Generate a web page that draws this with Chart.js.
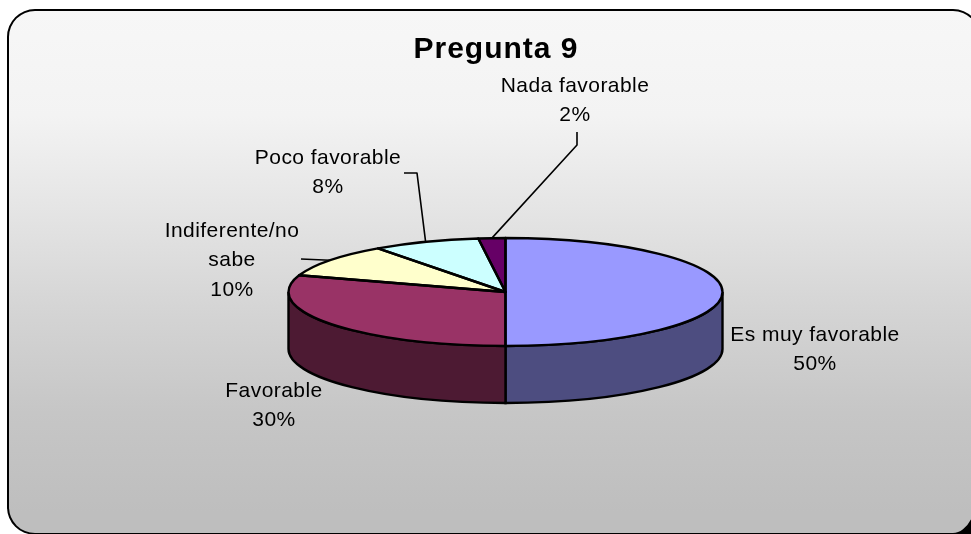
<!DOCTYPE html>
<html>
<head>
<meta charset="utf-8">
<script src="https://cdn.jsdelivr.net/npm/chart.js@4"></script>
<style>
html, body { margin: 0; padding: 0; background: #fff; overflow: hidden; }
#corner { position: absolute; left: 945px; top: 515px; width: 26px; height: 19px; background: #000; }
#frame {
    position: absolute; left: 7px; top: 9px; width: 974px; height: 526px;
    box-sizing: border-box; border: 2px solid #000; border-radius: 28px;
    border-bottom-right-radius: 28px 51px;
    background: linear-gradient(#f7f7f7 0%, #f3f3f3 20%, #e4e4e4 39%, #d4d4d4 58%, #c6c6c6 77%, #bebebe 96%, #bebebe 100%);
}
</style>
</head>
<body>
<div id="corner"></div>
<div id="frame"></div>
<canvas id="pieChart" width="971" height="534" style="position:absolute;left:0;top:0"></canvas>
<script>
const chartTitle = 'Pregunta 9';
const categories = [['Es muy favorable'], ['Favorable'], ['Indiferente/no', 'sabe'], ['Poco favorable'], ['Nada favorable']];
const shares = [50, 30, 10, 8, 2];
const topColors = ['#9999ff', '#993366', '#ffffcc', '#ccffff', '#660066'];
const sideColors = ['#4d4d80', '#4d1a33', '#808066', '#668080', '#330033'];

// where the pie face ends up once squashed, and how thick it is
const face = { x: 505.5, y: 292, rx: 217, ry: 54, depth: 57 };

// label centre (first line) and leader elbow points, one per slice
const labelPos = [
    { x: 815, y: 335, leader: [] },
    { x: 274, y: 391, leader: [] },
    { x: 232, y: 231, leader: [[301, 259]] },
    { x: 328, y: 158, leader: [[404, 173], [417, 173]] },
    { x: 575, y: 86, leader: [[577, 132], [577, 145]] }
];
const fontPx = 21, lineStep = 29.5;

function facePoint(a) {
    return [face.x + face.rx * Math.cos(a), face.y + face.ry * Math.sin(a)];
}

const pie3d = {
    id: 'pie3d',
    beforeDraw(chart) {
        // GDI text runs wider than the same font here
        chart.ctx.letterSpacing = '1px';
    },
    beforeDatasetsDraw(chart) {
        const ctx = chart.ctx;
        ctx.letterSpacing = '0px';
        const arcs = chart.getDatasetMeta(0).data;
        // side wall, only the part of each slice that faces the viewer
        ctx.save();
        ctx.lineWidth = 2.4;
        ctx.strokeStyle = '#000';
        arcs.forEach((arc, i) => {
            const a = Math.max(arc.startAngle, 0), b = Math.min(arc.endAngle, Math.PI);
            if (b <= a) return;
            ctx.beginPath();
            ctx.ellipse(face.x, face.y, face.rx, face.ry, 0, a, b);
            ctx.ellipse(face.x, face.y + face.depth, face.rx, face.ry, 0, b, a, true);
            ctx.closePath();
            ctx.fillStyle = sideColors[i];
            ctx.fill();
            ctx.stroke();
        });
        ctx.restore();
        // the slices themselves are squashed onto the face
        const first = arcs[0];
        ctx.save();
        ctx.translate(face.x, face.y);
        ctx.scale(face.rx / first.outerRadius, face.ry / first.outerRadius);
        ctx.translate(-first.x, -first.y);
    },
    afterDatasetsDraw(chart) {
        const ctx = chart.ctx;
        ctx.restore();
        const arcs = chart.getDatasetMeta(0).data;
        ctx.save();
        ctx.lineWidth = 2.4;
        ctx.strokeStyle = '#000';
        ctx.lineJoin = 'round';
        // outlines are stroked without the squash so the width stays even
        arcs.forEach(arc => {
            ctx.beginPath();
            ctx.moveTo(face.x, face.y);
            ctx.ellipse(face.x, face.y, face.rx, face.ry, 0, arc.startAngle, arc.endAngle);
            ctx.closePath();
            ctx.stroke();
        });
        // leaders
        ctx.lineWidth = 1.6;
        arcs.forEach((arc, i) => {
            const pts = labelPos[i].leader;
            if (!pts.length) return;
            const end = facePoint((arc.startAngle + arc.endAngle) / 2);
            ctx.beginPath();
            ctx.moveTo(pts[0][0], pts[0][1]);
            pts.forEach(p => ctx.lineTo(p[0], p[1]));
            ctx.lineTo(end[0], end[1]);
            ctx.stroke();
        });
        // labels
        ctx.fillStyle = '#000';
        ctx.font = fontPx + 'px "Liberation Sans"';
        ctx.letterSpacing = '0.45px';
        ctx.textAlign = 'center';
        ctx.textBaseline = 'middle';
        categories.forEach((lines, i) => {
            const all = lines.concat(shares[i] + '%');
            all.forEach((t, n) => ctx.fillText(t, labelPos[i].x, labelPos[i].y + n * lineStep));
        });
        ctx.restore();
    }
};

new Chart(document.getElementById('pieChart').getContext('2d'), {
    type: 'pie',
    data: {
        labels: categories,
        datasets: [{
            data: shares,
            backgroundColor: topColors,
            borderWidth: 0,
            clip: false
        }]
    },
    options: {
        responsive: false,
        animation: false,
        layout: { padding: { left: 21, top: 32 } },
        plugins: {
            legend: { display: false },
            tooltip: { enabled: false },
            title: {
                display: true,
                text: chartTitle,
                color: '#000',
                font: { family: '"Liberation Sans"', size: 30, weight: 'bold' },
                padding: 0
            }
        }
    },
    plugins: [pie3d]
});
</script>
</body>
</html>
